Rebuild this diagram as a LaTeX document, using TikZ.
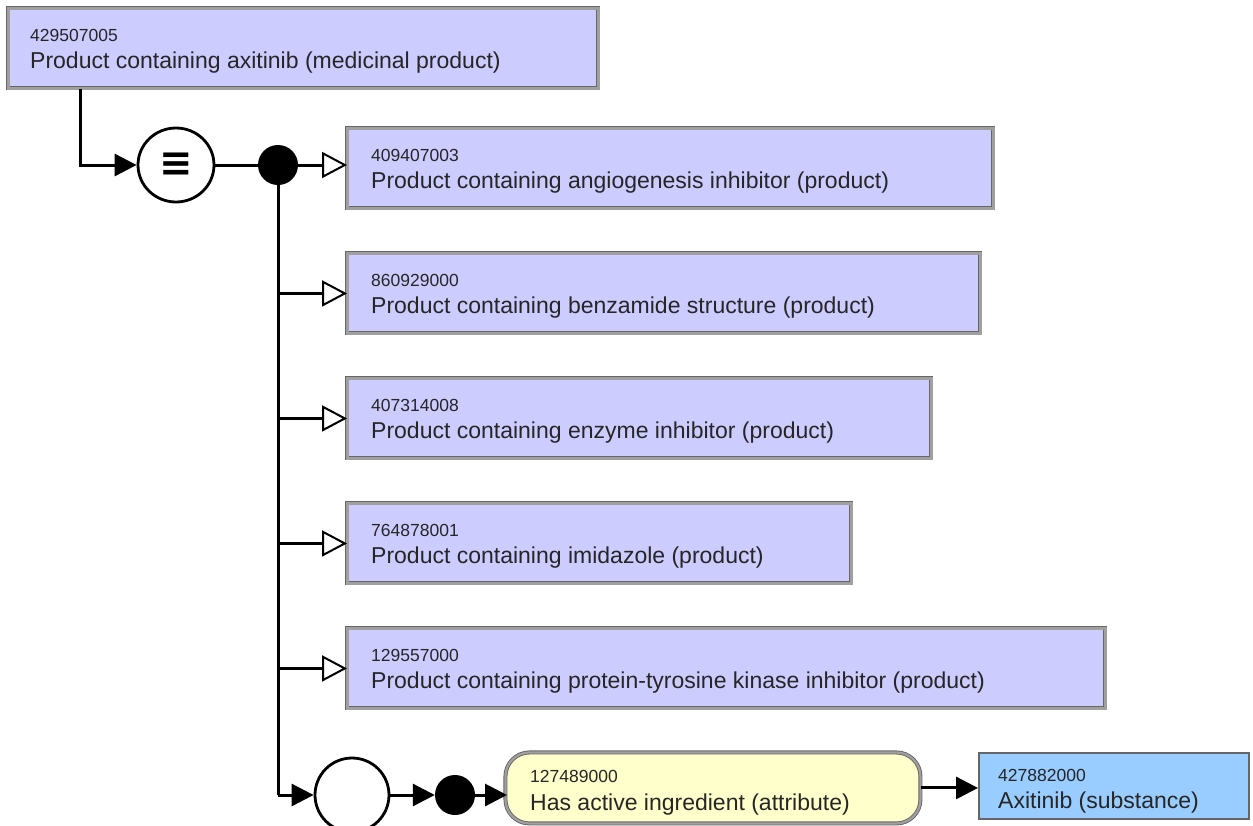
\documentclass[tikz,border=0pt]{standalone}
\usepackage{fontspec}
\setmainfont{Liberation Sans}
\newfontfamily\symfont{DejaVu Sans}
\usetikzlibrary{arrows.meta,calc,shapes.geometric}
\definecolor{conc}{HTML}{CCCCFF}
\definecolor{attr}{HTML}{FFFFCC}
\definecolor{subst}{HTML}{99CCFF}
\definecolor{frame}{HTML}{666666}
\definecolor{band}{HTML}{A0A0A0}
\tikzset{
  concbox/.style={rectangle, fill=conc, draw=frame, line width=0.9pt, double=band, double distance=2.2pt, minimum height=80pt, inner sep=0pt, anchor=north west},
  attrbox/.style={rectangle, rounded corners=24pt, fill=attr, draw=frame, line width=0.9pt, double=band, double distance=2.2pt, inner sep=0pt, anchor=north west},
  substbox/.style={rectangle, fill=subst, draw=frame, line width=2pt, inner sep=0pt, anchor=north west},
  idtext/.style={anchor=base west, inner sep=0pt, font=\fontsize{17.5}{19}\selectfont, text=black!85},
  labtext/.style={anchor=base west, inner sep=0pt, font=\fontsize{23}{27}\selectfont, text=black!85},
  ring/.style={ellipse, draw=black, line width=2.8pt, fill=white, inner sep=0pt},
  dot/.style={circle, fill=black, inner sep=0pt},
  conn/.style={line width=3pt, black},
  isa/.style={conn, -{Triangle[open, length=25pt, width=26pt, line width=2pt]}},
  rel/.style={conn, -{Triangle[length=22pt, width=22pt]}},
}
\begin{document}
\begin{tikzpicture}[x=1pt,y=-1pt]
\useasboundingbox (0,0) rectangle (1253,825);
% top concept
\node[concbox, minimum width=590pt] (b1) at (8,8) {};
\node[idtext] (b1i) at ($(b1.north west)+(22,33)$) {429507005};
\node[labtext] (b1l) at ($(b1.north west)+(22,60)$) {Product containing axitinib (medicinal product)};
% parents
\node[concbox, minimum width=646pt] (b2) at (347,128) {};
\node[idtext] (b2i) at ($(b2.north west)+(24,33)$) {409407003};
\node[labtext] (b2l) at ($(b2.north west)+(24,60)$) {Product containing angiogenesis inhibitor (product)};
\node[concbox, minimum width=633pt] (b3) at (347,253) {};
\node[idtext] (b3i) at ($(b3.north west)+(24,33)$) {860929000};
\node[labtext] (b3l) at ($(b3.north west)+(24,60)$) {Product containing benzamide structure (product)};
\node[concbox, minimum width=584pt] (b4) at (347,378) {};
\node[idtext] (b4i) at ($(b4.north west)+(24,33)$) {407314008};
\node[labtext] (b4l) at ($(b4.north west)+(24,60)$) {Product containing enzyme inhibitor (product)};
\node[concbox, minimum width=504pt] (b5) at (347,503) {};
\node[idtext] (b5i) at ($(b5.north west)+(24,33)$) {764878001};
\node[labtext] (b5l) at ($(b5.north west)+(24,60)$) {Product containing imidazole (product)};
\node[concbox, minimum width=758pt] (b6) at (347,628) {};
\node[idtext] (b6i) at ($(b6.north west)+(24,33)$) {129557000};
\node[labtext] (b6l) at ($(b6.north west)+(24,60)$) {Product containing protein-tyrosine kinase inhibitor (product)};
% attribute and value
\node[attrbox, minimum width=415pt, minimum height=71pt] (at) at (505,752) {};
\node[idtext] (ati) at ($(at.north west)+(25,30)$) {127489000};
\node[labtext] (atl) at ($(at.north west)+(25,58)$) {Has active ingredient (attribute)};
\node[substbox, minimum width=270pt, minimum height=66pt] (sb) at (978,752) {};
\node[idtext] (sbi) at ($(sb.north west)+(20,29)$) {427882000};
\node[labtext] (sbl) at ($(sb.north west)+(20,56)$) {Axitinib (substance)};
% definition operators
\node[ring, minimum width=76pt, minimum height=74pt] (eq) at (176,165) {\symfont\bfseries\fontsize{40}{40}\selectfont ≡};
\node[dot, minimum size=40pt] (d1) at (278,165) {};
\node[ring, minimum width=74pt, minimum height=74pt] (grp) at (352,795) {};
\node[dot, minimum size=40pt] (d2) at (455,795) {};
\coordinate (c1) at (80,165);
\coordinate (c2) at (278,795);
% connectors
\draw[rel] (b1.south -| c1) -- (c1) -- (eq.west);
\draw[conn] (eq.east) -- (d1.west);
\draw[isa] (d1.east) -- (d1.east -| b2.west);
\draw[conn] (d1.south) -- (c2);
\draw[isa] (c2 |- b3.west) -- (b3.west);
\draw[isa] (c2 |- b4.west) -- (b4.west);
\draw[isa] (c2 |- b5.west) -- (b5.west);
\draw[isa] (c2 |- b6.west) -- (b6.west);
\draw[rel] (c2) -- (grp.west);
\draw[rel] (grp.east) -- (d2.west);
\draw[rel] (d2.east) -- ($(d2.east -| at.west)+(2,0)$);
\draw[rel] (at.east) -- (at.east -| sb.west);
\end{tikzpicture}
\end{document}
